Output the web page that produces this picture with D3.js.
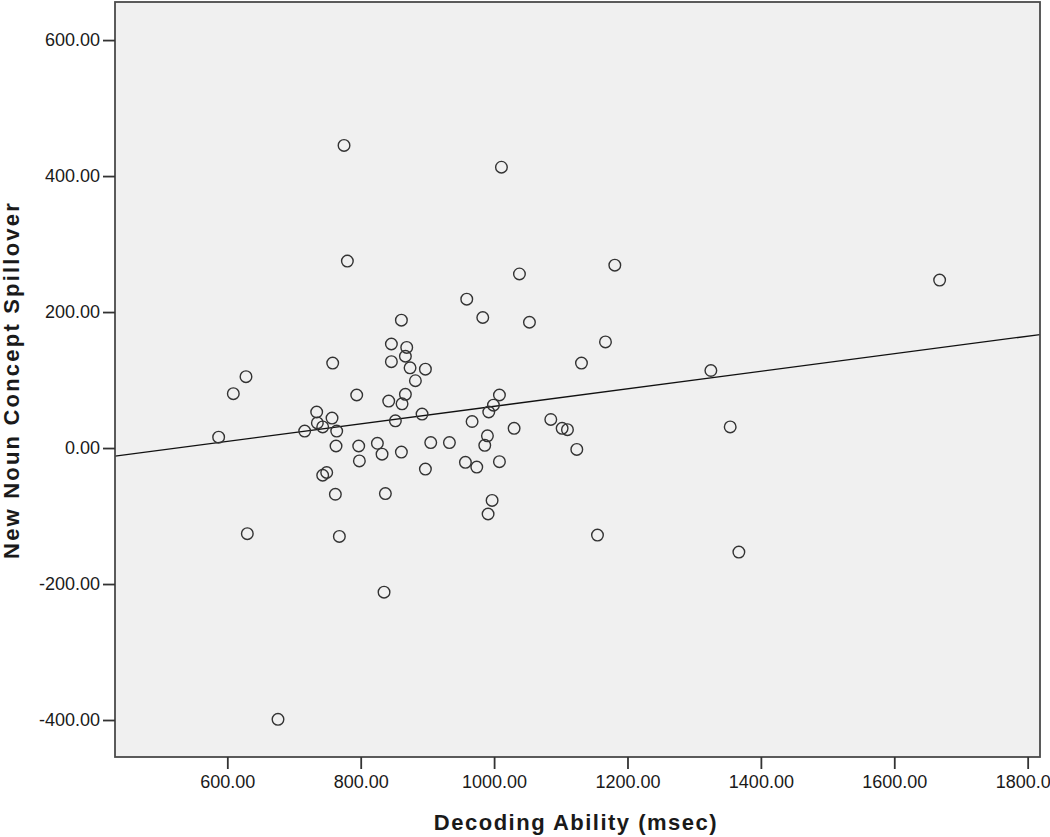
<!DOCTYPE html>
<html>
<head>
<meta charset="utf-8">
<script src="https://cdn.jsdelivr.net/npm/d3@7"></script>
<style>
  body { margin: 0; background: #fff; }
  svg text { font-family: "Liberation Sans", Arial, sans-serif; fill: #1a1a1a; }
</style>
</head>
<body>
<div id="chart"></div>
<script>
// decoding ability (msec) for each reader
var decoding = [775, 1011, 780, 959, 983, 861, 1038, 1181, 1053, 1167, 1131, 1325, 1668,
  846, 869, 758, 846, 867, 874, 897, 628, 609, 882, 794, 867, 842, 862, 1008, 999, 992,
  734, 757, 892, 735, 743, 852, 967, 716, 764, 587, 990, 1030, 1085, 1102, 1110, 1354,
  763, 797, 825, 905, 933, 986, 1124, 832, 861, 798, 957, 974, 1008, 897, 749, 743,
  762, 837, 997, 991, 630, 768, 1155, 1367, 835, 676];
// new noun concept spillover, same order
var spillover = [445, 413, 275, 219, 192, 188, 256, 269, 185, 156, 125, 114, 247,
  153, 148, 125, 127, 135, 118, 116, 105, 80, 99, 78, 79, 69, 65, 78, 63, 53,
  53, 44, 50, 37, 31, 40, 39, 25, 25, 16, 18, 29, 42, 29, 27, 31,
  3, 3, 7, 8, 8, 4, -2, -9, -6, -19, -21, -28, -20, -31, -36, -40,
  -68, -67, -77, -97, -126, -130, -128, -153, -212, -399];

var xTicks = [600, 800, 1000, 1200, 1400, 1600, 1800];
var yTicks = [-400, -200, 0, 200, 400, 600];
// fit line
var fitIntercept = -67.7;
var fitSlope = 0.129;

var width = 1050, height = 837;
var plotLeft = 115, plotRight = 1040, plotTop = 2, plotBottom = 757;

var svg = d3.select('#chart').append('svg')
  .attr('width', width)
  .attr('height', height);

var x = d3.scaleLinear().domain([431.6, 1818.5]).range([plotLeft, plotRight]);
var y = d3.scaleLinear().domain([-454.4, 656]).range([plotBottom, plotTop]);
// plain hyphen for negatives, like the original
var fmt = function(v) { return d3.format('.2f')(v).replace('\u2212', '-'); };

svg.append('rect')
  .attr('x', plotLeft).attr('y', plotTop)
  .attr('width', plotRight - plotLeft).attr('height', plotBottom - plotTop)
  .style('fill', '#f0f0f0');

svg.append('clipPath').attr('id', 'plotclip')
  .append('rect')
  .attr('x', plotLeft).attr('y', plotTop)
  .attr('width', plotRight - plotLeft).attr('height', plotBottom - plotTop);

// regression line
var xd = x.domain();
svg.append('line')
  .attr('clip-path', 'url(#plotclip)')
  .attr('x1', x(xd[0])).attr('y1', y(fitIntercept + fitSlope * xd[0]))
  .attr('x2', x(xd[1])).attr('y2', y(fitIntercept + fitSlope * xd[1]))
  .style('stroke', '#111')
  .style('stroke-width', 1.3);

svg.append('g')
  .selectAll('circle')
  .data(d3.range(decoding.length))
  .join('circle')
  .attr('cx', i => x(decoding[i]))
  .attr('cy', i => y(spillover[i]))
  .attr('r', 5.8)
  .style('fill', 'none')
  .style('stroke', '#333')
  .style('stroke-width', 1.4);

// frame
svg.append('rect')
  .attr('x', plotLeft).attr('y', plotTop)
  .attr('width', plotRight - plotLeft).attr('height', plotBottom - plotTop)
  .style('fill', 'none')
  .style('stroke', '#4a4a4a')
  .style('stroke-width', 1.8);

var xAxis = svg.append('g')
  .attr('transform', 'translate(0,' + plotBottom + ')')
  .call(d3.axisBottom(x).tickValues(xTicks).tickFormat(fmt).tickSize(12).tickPadding(6));
var yAxis = svg.append('g')
  .attr('transform', 'translate(' + plotLeft + ',0)')
  .call(d3.axisLeft(y).tickValues(yTicks).tickFormat(fmt).tickSize(12).tickPadding(3));

[xAxis, yAxis].forEach(function(a) {
  a.select('.domain').remove();
  a.selectAll('.tick line').style('stroke', '#333').style('stroke-width', 1.8);
  a.selectAll('.tick text')
    .style('font-size', '18px')
    .style('font-family', '"Liberation Sans", Arial, sans-serif')
    .style('fill', '#1a1a1a');
});

svg.append('text')
  .attr('x', 576).attr('y', 830)
  .attr('text-anchor', 'middle')
  .style('font-size', '22px')
  .style('font-weight', 'bold')
  .style('letter-spacing', '1.5px')
  .text('Decoding Ability (msec)');

svg.append('text')
  .attr('transform', 'translate(19,380) rotate(-90)')
  .attr('text-anchor', 'middle')
  .style('font-size', '22px')
  .style('font-weight', 'bold')
  .style('letter-spacing', '2.2px')
  .text('New Noun Concept Spillover');
</script>
</body>
</html>
